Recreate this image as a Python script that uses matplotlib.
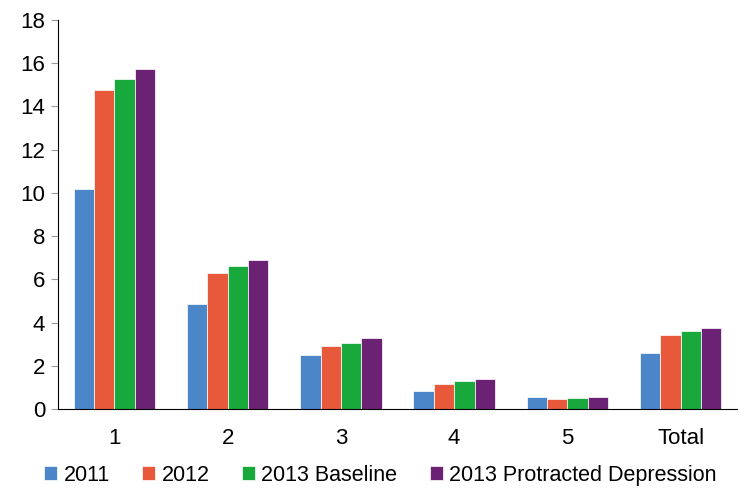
import matplotlib
matplotlib.use("Agg")
import matplotlib.pyplot as plt
import numpy as np

plt.rcParams['font.family'] = ['Liberation Sans', 'DejaVu Sans']

categories = ["1", "2", "3", "4", "5", "Total"]
series_names = ["2011", "2012", "2013 Baseline", "2013 Protracted Depression"]
v2011 = [10.2, 4.85, 2.5, 0.85, 0.55, 2.6]
v2012 = [14.75, 6.3, 2.9, 1.15, 0.45, 3.4]
v2013b = [15.25, 6.6, 3.05, 1.3, 0.5, 3.6]
v2013p = [15.75, 6.9, 3.3, 1.4, 0.55, 3.75]
colors = ["#4A86C8", "#E8583A", "#19A83B", "#6B2275"]

fig = plt.figure(figsize=(7.41, 4.88), dpi=100)
ax = fig.add_axes([0.078, 0.162, 0.917, 0.797])
x = np.arange(len(categories))
w = 0.18
for i, (vals, name) in enumerate(zip([v2011, v2012, v2013b, v2013p], series_names)):
    ax.bar(x + (i - 1.5) * w, vals, w, color=colors[i], label=name,
           edgecolor="white", linewidth=0.5)
ax.set_xlim(-0.5, len(categories) - 0.5)
ax.set_ylim(0, 18)
ax.set_yticks(range(0, 19, 2))
ax.set_xticks(x)
ax.set_xticklabels(categories)
ax.tick_params(axis="x", length=0, labelsize=16, pad=14)
ax.tick_params(axis="y", labelsize=16, length=5, color="#999999", pad=4)
for s in ["top", "right"]:
    ax.spines[s].set_visible(False)
for s in ["left", "bottom"]:
    ax.spines[s].set_color("black")
ax.legend(loc="upper center", bbox_to_anchor=(0.475, -0.11), ncol=4, frameon=False,
          fontsize=15.5, handlelength=0.6, handleheight=0.6, columnspacing=1.5, handletextpad=0.3,
          borderaxespad=0.2)
fig.savefig("out.png", dpi=100)
